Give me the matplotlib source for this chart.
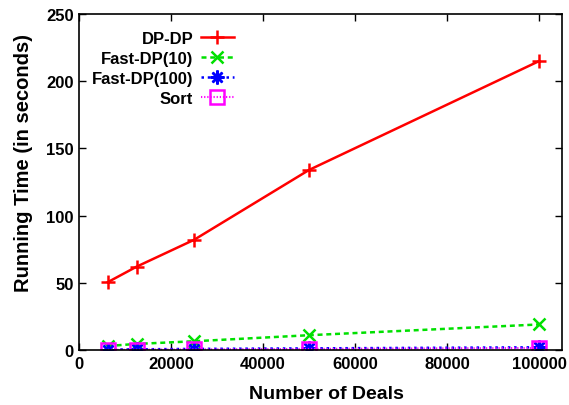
import matplotlib.pyplot as plt

plt.rcParams['font.family'] = ['Liberation Sans', 'DejaVu Sans']
plt.rcParams['font.weight'] = 'bold'

deals = [6250, 12500, 25000, 50000, 100000]
dp_dp = [50.5, 62, 82, 134, 215]
fast_dp_10 = [3, 4.5, 6.5, 11, 19]
fast_dp_100 = [0.3, 0.5, 0.8, 1.2, 2]
sort_time = [0.1, 0.2, 0.4, 0.8, 1.5]

fig = plt.figure(figsize=(5.69, 4.06), dpi=100)
ax = fig.add_axes([0.139, 0.1355, 0.849, 0.8275])

ax.plot(deals, dp_dp, color='#ff0000', lw=1.8, ls='-', marker='+',
        ms=10, mew=1.8, label='DP-DP')
ax.plot(deals, fast_dp_10, color='#00e000', lw=1.8, ls=(0, (2, 1.5)), marker='x',
        ms=8, mew=1.8, label='Fast-DP(10)')
ax.plot(deals, fast_dp_100, color='#0000ff', lw=1.8, ls=(0, (1, 1.5)), marker=(8, 2, 0),
        ms=10, mew=1.8, label='Fast-DP(100)')
ax.plot(deals, sort_time, color='#ff00ff', lw=1.5, ls=(0, (0.6, 0.9)), marker='s',
        ms=10.5, mew=1.8, mfc='none', label='Sort')

ax.set_xlim(0, 105000)
ax.set_ylim(0, 250)
ax.set_xticks([0, 20000, 40000, 60000, 80000, 100000])
ax.set_yticks([0, 50, 100, 150, 200, 250])
ax.tick_params(direction='in', top=True, right=True, length=5, width=1,
               labelsize=12, pad=4)
for lbl in ax.get_xticklabels() + ax.get_yticklabels():
    lbl.set_fontweight('bold')
for sp in ax.spines.values():
    sp.set_linewidth(1.2)

ax.set_xlabel('Number of Deals', fontsize=14, fontweight='bold')
ax.set_ylabel('Running Time (in seconds)', fontsize=14.5, fontweight='bold', labelpad=9)
ax.xaxis.set_label_coords(0.513, -0.103)
ax.yaxis.label.set_y(0.56)

ax.legend(loc='upper left', bbox_to_anchor=(0.002, 0.985), markerfirst=False,
          frameon=False, fontsize=12, handlelength=2.0, handletextpad=0.45,
          labelspacing=0.3, borderaxespad=0.3, alignment='right')
leg = ax.get_legend()
for t in leg.get_texts():
    t.set_ha('right')
    t.set_fontweight('bold')

fig.savefig('out.png', dpi=100)
